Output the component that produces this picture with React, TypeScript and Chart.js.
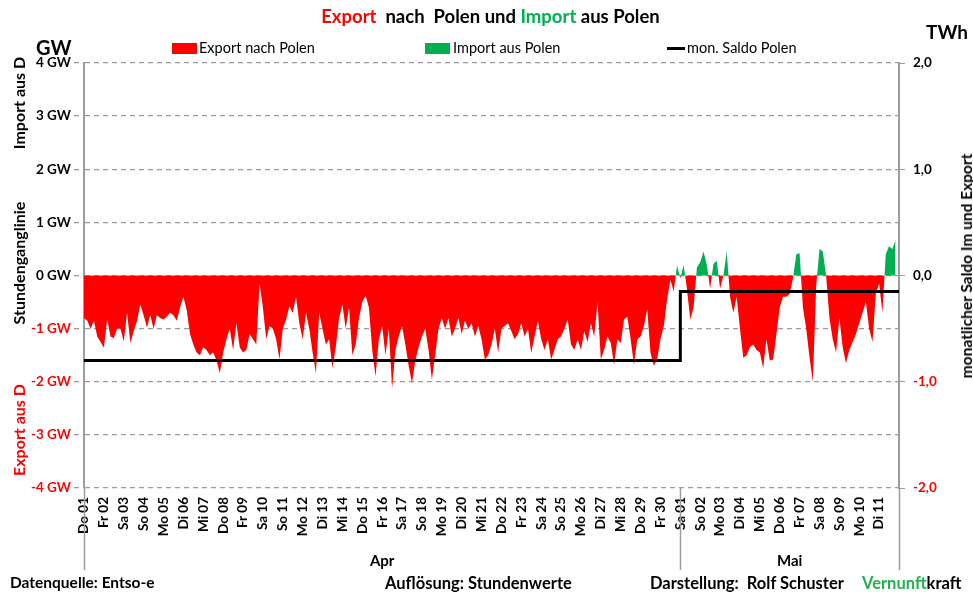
import React, { useEffect, useRef } from "react";
import { Chart, registerables } from "chart.js";

Chart.register(...registerables);

// ---- data (GW, 4-hour samples, negative = export from D to Poland) ----
const aprilFlow: number[] = [
  -0.80, -0.85, -1.00, -0.85, -1.15, -1.25,
  -1.36, -0.83, -1.15, -1.18, -1.00, -1.00,
  -1.24, -0.70, -1.27, -1.05, -0.85, -0.55,
  -0.75, -0.98, -0.75, -1.00, -0.75, -0.80,
  -0.83, -0.77, -0.70, -0.75, -0.85, -0.60,
  -0.40, -0.65, -1.10, -1.30, -1.45, -1.50,
  -1.35, -1.40, -1.50, -1.45, -1.60, -1.84,
  -1.45, -1.20, -1.00, -1.40, -0.90, -1.35,
  -1.45, -1.40, -1.10, -1.20, -1.30, -0.15,
  -0.60, -1.20, -0.95, -1.00, -1.20, -1.58,
  -1.00, -0.83, -0.58, -0.70, -0.40, -0.90,
  -1.20, -0.70, -1.00, -1.45, -1.84, -0.70,
  -1.00, -1.30, -1.20, -1.74, -1.35, -0.80,
  -0.55, -1.00, -0.60, -1.50, -1.30, -0.80,
  -0.50, -0.38, -0.60, -1.40, -1.90, -1.20,
  -0.95, -1.50, -1.00, -2.12, -1.40, -1.15,
  -0.95, -1.30, -1.70, -2.03, -1.60, -1.35,
  -1.15, -1.00, -1.40, -1.96, -1.50, -1.00,
  -0.80, -1.00, -0.80, -1.15, -1.00, -0.80,
  -1.10, -0.85, -1.00, -0.90, -1.15, -0.95,
  -1.20, -1.58, -1.50, -1.30, -1.00, -1.45,
  -1.00, -0.95, -0.90, -1.05, -1.20, -1.10,
  -0.90, -1.15, -1.00, -1.46, -1.15, -0.85,
  -1.20, -1.40, -1.20, -1.58, -1.40, -1.20,
  -1.15, -1.00, -0.83, -1.30, -1.40, -1.20,
  -1.40, -1.05, -1.25, -0.90, -1.15, -0.50,
  -1.58, -1.40, -1.15, -1.27, -1.68, -1.20,
  -1.27, -0.83, -0.77, -1.20, -1.68, -1.20,
  -1.15, -0.95, -0.64, -1.46, -1.70, -1.58,
  -1.20, -0.95, -0.45, -0.08, -0.30, 0.19,
];

const mayFlow: number[] = [
  -0.05, 0.20, -0.26, -0.83, -0.60, 0.15,
  0.25, 0.45, 0.20, -0.25, 0.22, 0.28,
  -0.25, 0.00, 0.45, -0.40, -0.70, -0.40,
  -1.00, -1.55, -1.50, -1.35, -1.30, -1.40,
  -1.45, -1.74, -1.20, -1.60, -1.58, -1.10,
  -0.60, -0.40, -0.40, -0.35, -0.05, 0.40,
  0.42, -0.60, -1.00, -1.55, -2.00, -0.20,
  0.50, 0.45, 0.00, -0.80, -1.20, -1.45,
  -0.80, -1.35, -1.65, -1.40, -1.25, -1.10,
  -0.90, -0.70, -0.50, -1.00, -1.25, -0.35,
  -0.15, -0.70, 0.40, 0.55, 0.50, 0.68,
];

const dayLabels: string[] = [
  "Do 01", "Fr 02", "Sa 03", "So 04", "Mo 05", "Di 06", "Mi 07", "Do 08", "Fr 09", "Sa 10",
  "So 11", "Mo 12", "Di 13", "Mi 14", "Do 15", "Fr 16", "Sa 17", "So 18", "Mo 19", "Di 20",
  "Mi 21", "Do 22", "Fr 23", "Sa 24", "So 25", "Mo 26", "Di 27", "Mi 28", "Do 29", "Fr 30",
  "Sa 01", "So 02", "Mo 03", "Di 04", "Mi 05", "Do 06", "Fr 07", "Sa 08", "So 09", "Mo 10", "Di 11",
];

const months: string[] = ["Apr", "Mai"];
const monthDays: number[] = [30, 11];
const saldoTWh: number[] = [-0.80, -0.15];

const HOURS_PER_SAMPLE = 4;
const RED = "#ff0000";
const GREEN = "#00b050";
const FONT = "Lato, 'Open Sans', sans-serif";
const GRID = "#9c9c9c";

export default function App() {
  const ref = useRef<HTMLCanvasElement | null>(null);

  useEffect(() => {
    const canvas = ref.current;
    if (!canvas) return;

    const flow = [...aprilFlow, ...mayFlow].map((v, i) => ({ x: i * HOURS_PER_SAMPLE, y: v }));
    const totalHours = monthDays.reduce((a, b) => a + b, 0) * 24;

    const monthStarts: number[] = [];
    let acc = 0;
    monthDays.forEach((d) => {
      monthStarts.push(acc);
      acc += d * 24;
    });
    const saldo = saldoTWh.map((v, i) => ({ x: monthStarts[i], y: v }));
    saldo.push({ x: totalHours, y: saldoTWh[saldoTWh.length - 1] });

    const monthPlugin = {
      id: "monthPlugin",
      afterDraw(chart: any) {
        const { ctx, chartArea, scales } = chart;
        const xs = scales.x;
        const bottom = chartArea.bottom;
        ctx.save();
        ctx.strokeStyle = GRID;
        ctx.lineWidth = 1.5;
        const bounds = [...monthStarts, totalHours];
        bounds.forEach((h) => {
          const px = Math.round(xs.getPixelForValue(h)) + 0.5;
          ctx.beginPath();
          ctx.moveTo(px, bottom);
          ctx.lineTo(px, bottom + 82);
          ctx.stroke();
        });
        ctx.fillStyle = "#000";
        ctx.font = `bold 15px ${FONT}`;
        ctx.textAlign = "center";
        ctx.textBaseline = "middle";
        months.forEach((m, i) => {
          const a = xs.getPixelForValue(bounds[i]);
          const b = xs.getPixelForValue(bounds[i + 1]);
          ctx.fillText(m, (a + b) / 2, bottom + 73);
        });
        ctx.restore();
      },
    };

    const chart = new Chart(canvas, {
      type: "line",
      data: {
        datasets: [
          {
            label: "mon. Saldo Polen",
            data: saldo,
            yAxisID: "y1",
            borderColor: "#000",
            borderWidth: 3,
            pointRadius: 0,
            stepped: "before",
            fill: false,
            order: 0,
          },
          {
            label: "Stundenganglinie",
            data: flow,
            yAxisID: "y",
            borderWidth: 0,
            borderColor: "rgba(0,0,0,0)",
            pointRadius: 0,
            tension: 0,
            fill: { target: "origin", above: GREEN, below: RED },
            order: 1,
          },
        ],
      },
      options: {
        responsive: false,
        animation: false,
        events: [],
        layout: { padding: { top: 63, left: 0, right: 0, bottom: 0 } },
        plugins: { legend: { display: false }, tooltip: { enabled: false }, title: { display: false } },
        scales: {
          x: {
            type: "linear",
            min: 0,
            max: totalHours,
            afterFit: (s: any) => { s.height = 104; },
            grid: { display: false, drawTicks: false },
            border: { display: false },
            ticks: {
              stepSize: 24,
              autoSkip: false,
              minRotation: 90,
              maxRotation: 90,
              padding: 9,
              color: "#000",
              font: { family: FONT, size: 13.5, weight: "bold" },
              callback: (v: any) => {
                const d = Number(v) / 24;
                return Number.isInteger(d) && d < dayLabels.length ? dayLabels[d] : "";
              },
            },
          },
          y: {
            position: "left",
            min: -4,
            max: 4,
            afterFit: (s: any) => { s.width = 84; },
            border: { display: true, color: GRID, width: 2, dash: [5, 4] },
            grid: {
              color: GRID,
              lineWidth: 1.3,
              tickLength: 10,
              tickBorderDash: [5, 4],
              tickColor: GRID,
            },
            ticks: {
              stepSize: 1,
              padding: 3,
              font: { family: FONT, size: 13.5, weight: "bold" },
              color: (c: any) => (c.tick && c.tick.value < 0 ? RED : "#000"),
              callback: (v: any) => `${v} GW`,
            },
          },
          y1: {
            position: "right",
            min: -2,
            max: 2,
            afterFit: (s: any) => { s.width = 74; },
            border: { display: true, color: GRID, width: 2 },
            grid: { drawOnChartArea: false, tickLength: 6, color: GRID },
            ticks: {
              stepSize: 1,
              padding: 8,
              font: { family: FONT, size: 13.5, weight: "bold" },
              color: (c: any) => (c.tick && c.tick.value < 0 ? RED : "#000"),
              callback: (v: any) => Number(v).toFixed(1).replace(".", ","),
            },
          },
        },
      } as any,
      plugins: [monthPlugin],
    });

    return () => chart.destroy();
  }, []);

  const rot = (text: string, cx: number, cy: number, color: string, size: number) => (
    <div
      style={{
        position: "absolute",
        left: cx,
        top: cy,
        transform: "translate(-50%, -50%) rotate(-90deg)",
        whiteSpace: "nowrap",
        fontWeight: "bold",
        fontSize: size,
        color,
      }}
    >
      {text}
    </div>
  );

  const foot = { position: "absolute" as const, top: 573, fontSize: 16.5, fontWeight: "bold" as const, whiteSpace: "pre" as const };

  return (
    <div
      style={{
        position: "fixed",
        left: 0,
        top: 0,
        width: 973,
        height: 592,
        background: "#fff",
        overflow: "hidden",
        fontFamily: FONT,
      }}
    >
      <canvas ref={ref} width={973} height={592} style={{ position: "absolute", left: 0, top: 0 }} />
      <div style={{ position: "absolute", left: 4, top: 5, width: 973, textAlign: "center", fontSize: 18.5, fontWeight: "bold", whiteSpace: "pre" }}>
        <span style={{ color: RED }}>Export</span>
        <span>{"  nach  Polen und "}</span>
        <span style={{ color: GREEN }}>Import</span>
        <span>{" aus Polen"}</span>
      </div>
      <div style={{ position: "absolute", left: 36, top: 35, fontSize: 20, fontWeight: "bold" }}>GW</div>
      <div style={{ position: "absolute", left: 926, top: 20, fontSize: 19, fontWeight: "bold" }}>TWh</div>

      <div style={{ position: "absolute", left: 172, top: 43, width: 25, height: 11, background: RED }} />
      <div style={{ position: "absolute", left: 199, top: 39, fontSize: 14.5 }}>Export nach Polen</div>
      <div style={{ position: "absolute", left: 425, top: 43, width: 25, height: 11, background: GREEN }} />
      <div style={{ position: "absolute", left: 453, top: 39, fontSize: 14.5 }}>Import aus Polen</div>
      <div style={{ position: "absolute", left: 667, top: 47, width: 18, height: 3, background: "#000" }} />
      <div style={{ position: "absolute", left: 687, top: 39, fontSize: 14.5 }}>mon. Saldo Polen</div>

      {rot("Import aus D", 18, 103, "#000", 16)}
      {rot("Stundenganglinie", 18, 263, "#000", 16)}
      {rot("Export aus D", 18, 430, RED, 16)}
      {rot("monatlicher Saldo Im und Export", 966, 266, "#000", 15.5)}

      <div style={{ ...foot, left: 10, fontSize: 15.5 }}>Datenquelle: Entso-e</div>
      <div style={{ ...foot, left: 385 }}>Auflösung: Stundenwerte</div>
      <div style={{ ...foot, left: 650 }}>Darstellung:  Rolf Schuster</div>
      <div style={{ ...foot, left: 862 }}>
        <span style={{ color: "#22b14c" }}>Vernunft</span>kraft
      </div>
    </div>
  );
}
